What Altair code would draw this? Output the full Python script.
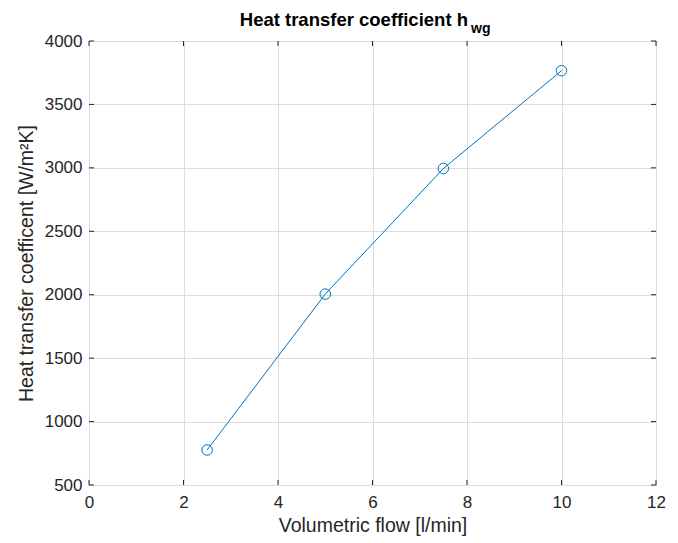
import altair as alt
import pandas as pd

flow = [2.5, 5, 7.5, 10]
htc = [776, 2005, 2995, 3766]
x_ticks = [0, 2, 4, 6, 8, 10, 12]
y_ticks = [500, 1000, 1500, 2000, 2500, 3000, 3500, 4000]
title_main = ["Heat transfer coefficient h"]
title_sub = ["wg"]

W, H = 567, 444
FONT = "Liberation Sans"
DARK = "#262626"
BLUE = "#0072BD"

df = pd.DataFrame({"flow": flow, "htc": htc})
xt = pd.DataFrame({"flow": x_ticks})
yt = pd.DataFrame({"htc": y_ticks})

xs = alt.Scale(domain=[0, 12], nice=False, zero=False)
ys = alt.Scale(domain=[500, 4000], nice=False, zero=False)

xaxis = alt.Axis(values=x_ticks, title="Volumetric flow [l/min]", ticks=False, format="d",
                 domain=False, grid=True, gridColor="#dcdcdc", labelFlush=False,
                 labelFont=FONT, labelFontSize=17, labelColor=DARK, labelPadding=9,
                 titleFont=FONT, titleFontSize=19.5, titleFontWeight="normal",
                 titleColor=DARK, titlePadding=6)
yaxis = alt.Axis(values=y_ticks, title="Heat transfer coefficent [W/m²K]", ticks=False, format="d",
                 domain=False, grid=True, gridColor="#dcdcdc", labelFlush=False,
                 labelFont=FONT, labelFontSize=17, labelColor=DARK, labelPadding=7,
                 titleFont=FONT, titleFontSize=19.5, titleFontWeight="normal",
                 titleColor=DARK, titlePadding=8)

line = alt.Chart(df).mark_line(color=BLUE, strokeWidth=1).encode(
    x=alt.X("flow:Q", scale=xs, axis=xaxis),
    y=alt.Y("htc:Q", scale=ys, axis=yaxis),
)
points = alt.Chart(df).mark_point(shape="circle", filled=False, color=BLUE, size=110,
                                  strokeWidth=1, opacity=1).encode(
    x=alt.X("flow:Q", scale=xs, axis=xaxis), y=alt.Y("htc:Q", scale=ys, axis=yaxis))

tick_len = 5
bt = alt.Chart(xt).mark_rule(color=DARK, strokeWidth=1).encode(
    x=alt.X("flow:Q", scale=xs, axis=xaxis), y=alt.value(H), y2=alt.value(H - tick_len))
tt = alt.Chart(xt).mark_rule(color=DARK, strokeWidth=1).encode(
    x=alt.X("flow:Q", scale=xs, axis=xaxis), y=alt.value(0), y2=alt.value(tick_len))
lt = alt.Chart(yt).mark_rule(color=DARK, strokeWidth=1).encode(
    y=alt.Y("htc:Q", scale=ys, axis=yaxis), x=alt.value(0), x2=alt.value(tick_len))
rt = alt.Chart(yt).mark_rule(color=DARK, strokeWidth=1).encode(
    y=alt.Y("htc:Q", scale=ys, axis=yaxis), x=alt.value(W), x2=alt.value(W - tick_len))

t1 = alt.Chart(pd.DataFrame({"t": title_main})).mark_text(
    font=FONT, fontSize=18.5, fontWeight="bold", color="black", align="right", baseline="alphabetic"
).encode(text="t:N", x=alt.value(379), y=alt.value(-15))
t2 = alt.Chart(pd.DataFrame({"t": title_sub})).mark_text(
    font=FONT, fontSize=14, fontWeight="bold", color="black", align="left", baseline="alphabetic"
).encode(text="t:N", x=alt.value(382), y=alt.value(-8))

chart = alt.layer(line, points, bt, tt, lt, rt, t1, t2).properties(
    width=W, height=H,
    autosize=alt.AutoSizeParams(type="none"),
    padding={"left": 89, "top": 41, "right": 22, "bottom": 58},
    background="white",
).configure_view(stroke=DARK, strokeWidth=1)

chart.save("out.html", embed_options={"renderer": "svg", "actions": False})
